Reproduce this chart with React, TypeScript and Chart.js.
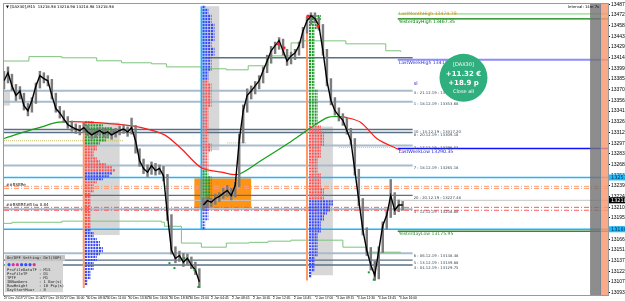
import React, { useEffect, useRef } from 'react';
import { Chart, registerables } from 'chart.js';
Chart.register(...registerables);

// ---------- price bars (one bar = 4px slot) ----------
const closes = [13383,13394,13376,13363,13369,13349,13342,13356,13376,13390,13386,13383,13363,13345,13339,13331,13323,13320,13317,13315,13319,13313,13309,13312,13315,13311,13313,13309,13312,13315,13317,13313,13319,13301,13274,13263,13258,13267,13260,13263,13253,13199,13151,13140,13144,13135,13140,13131,13124,13108,13213,13219,13217,13222,13225,13229,13233,13226,13240,13301,13342,13363,13369,13376,13383,13397,13410,13424,13431,13438,13424,13410,13417,13421,13431,13451,13465,13472,13468,13458,13424,13383,13356,13342,13335,13329,13315,13301,13260,13219,13179,13151,13131,13117,13151,13185,13199,13226,13206,13213,13213];
const highs = [13396,13402,13392,13378,13375,13366,13352,13360,13380,13396,13394,13390,13385,13366,13348,13342,13334,13328,13324,13322,13325,13322,13316,13317,13319,13318,13317,13316,13318,13321,13323,13320,13332,13322,13290,13276,13268,13272,13270,13268,13266,13255,13200,13156,13150,13147,13146,13142,13135,13126,13222,13224,13222,13228,13230,13236,13240,13236,13244,13310,13350,13372,13376,13382,13390,13402,13418,13430,13436,13442,13440,13426,13422,13426,13436,13456,13470,13476,13476,13470,13460,13426,13386,13360,13346,13338,13332,13318,13304,13262,13222,13182,13155,13136,13156,13190,13205,13248,13230,13220,13218];
const lows = [13372,13380,13370,13356,13358,13343,13335,13340,13352,13373,13380,13376,13358,13340,13332,13326,13318,13314,13311,13309,13312,13308,13304,13305,13308,13306,13307,13303,13306,13309,13311,13307,13310,13284,13266,13256,13252,13255,13254,13255,13246,13192,13146,13134,13136,13129,13132,13126,13118,13100,13206,13210,13211,13214,13218,13222,13225,13220,13224,13238,13298,13340,13358,13365,13372,13380,13394,13407,13420,13426,13418,13404,13406,13412,13418,13428,13448,13460,13462,13452,13418,13376,13350,13336,13328,13322,13310,13296,13254,13212,13172,13144,13124,13110,13112,13148,13180,13196,13200,13204,13206];

// moving average (slot, price)
const maX = [0,4.5,9.5,13.25,17,22,29.5,34.5,40.25,44.5,49.5,54.5,58.75,64.5,72,77,81.25,84.5,85.75,89.5,93.75,99.5];
const maY = [13304,13312,13320,13326,13327,13326,13323,13319,13309,13290,13264,13258,13255,13274,13300,13319,13333,13334,13333,13326,13303,13288];

// stepped pivot lines
const stepUpX = [0,6.25,14.5,23.25,29.5,37,40.75,49.5,55.75,61.25,66.25,72,74.5,85.75,95.75,99.5];
const stepUpY = [13410,13416,13414.4,13410.3,13407.6,13406.2,13402,13399.4,13398,13403.5,13417,13434.8,13437.6,13433.5,13424,13422.6];
const stepLoX = [0,2,14.5,39.5,40.25,44.5,49.5,55.75,61.5,66.25,72,85,90.75,99.5];
const stepLoY = [13188,13189.5,13191,13189.5,13184,13161,13155.4,13161,13162,13163.6,13165,13155.4,13148.6,13148.6];

// swing markers
const redMarkX = [68.75,70.25,76.25,78.75];
const redMarkY = [13433.5,13428,13471.6,13458];
const greenMarkX = [41.5,42.75,45.25,47.75,48.75,91.5,92.75];
const greenMarkY = [13133.6,13126.8,13140.4,13124,13101,13121,13111];

// TPO profiles
const prof1Counts = [3,6,9,10,9,8,7,5, 4,4,3,3,4,5, 7,9,10,9,8,6, 4,3,3,3,2,2,2,2,2,2,2,2,2,2,2,2, 2,3,3,4,5,5,6,6,5,4,4,3,3,3,2,2,2,1,1];
const prof1Codes = 'ggggggggrrrrrrrrrbbbrrrrrrrrrrrrrrrrbbbbbbbbbbbbbbbbbbb';
const prof2Counts = [1,2,2,3,3,3,4,4,4,4,4,4,3,3,4,4,4,3,3,3,3,3,2,2,2, 2,3,3,3,3,3,3,3,3,2,2,2,2,2,2,2,2,2,2,2,2,3,3,3,2,2,2,2,2,2, 2,2,3,3,3,3,3,3,3,3,2,2,2,2,2,2,2,1,1,1];
const prof2Codes = 'bbbbbbbbbbbbbbbbbbbbbbbbbrrrrrrrrrrrrrrrrrrrrrrrrrrrrrrggggggggggbbbbbbbbbb';
const prof3Counts = [4,4,3,3,3,2,2,2,2,2,2,2,2,2,2,2,2,2,2,2,2,2,2,2,2,3,3,3,3,3,3,3,3,3,3,3,3, 4,4,5,5,5,5,5,4,4,4,4,3,3,3,3,3,4,4,4,4,4,5,5,5,5, 8,8,7,7,6,5,5,4,4,4,4,3,3,3,3,3,3,3,3,2,2,2,2,2,1,1];
const prof3Codes = 'gggggggggggggggggggggggggggggggggggggrrrrrrrrrrrrrrrrrrrrrrrrrbbbbbbbbbbbbbbbbbbbbbbbbbb';
const profStart = [20.3, 49.8, 76.5];
const profTop = [13326, 13484, 13471.6];

// horizontal levels
const levelPrices = [13414.5,13369.4,13354.4,13316.3,13312.2,13294.5,13267.2,13226.3,13207.2,13147.2,13137.7,13131.0];
const levelStart = [49.5,0,0,0,0,0,0,0,0,0,0,0];
const levelLabels = ['', '3 : 21.12.19 : 13361.18', '1 : 18.12.19 : 13353.68', '10 : 13.12.19 : 13317.20', '8 : 20.12.19 : 13309.18', '2 : 17.12.19 : 13296.53', '7 : 18.12.19 : 13265.18', '20 : 20.12.19 : 13227.48', '4 : 12.12.19 : 13208.88', '6 : 06.12.19 : 13148.48', '5 : 13.12.19 : 13139.88', '4 : 04.12.19 : 13129.75'];
const cyanLevels = [13250.8, 13179.9];
const orangeLevels = [13238.6, 13235.8];
const redLevels = [13209.9, 13205.9];
const bidPrice = 13219.5;
const namedPrices = [13474.4, 13467.6, 13411.7, 13290.4, 13177.2];
const namedLabels = ['LastMonthHigh 13474.78', 'YesterdayHigh 13467.35', 'LastWeekHigh 13411.50', 'LastWeekLow 13290.35', 'YesterdayLow 13175.95'];

// zones [x0, x1, priceTop, priceBottom]
const grayZones = [[20.25,29,13326,13172],[49.75,54,13485,13288],[77,82.5,13320.4,13117],[0,1.5,13369,13349]];
const orangeZone = [47.75,62,13249.5,13208.6];

// axes
const yTicks = [13487.5,13472.9,13458.3,13443.7,13429.1,13414.5,13399.9,13385.3,13370.7,13356.1,13341.5,13326.9,13312.3,13297.7,13283.1,13268.5,13253.9,13239.3,13224.7,13210.1,13195.5,13180.9,13166.3,13151.7,13137.1,13122.5,13107.9,13093.3];
const xTickPos = [0,5,10,15.25,20.75,25.75,31.25,36.25,41.5,46.5,52,57.25,62.5,67.5,72.75,78.25,83.5,88.75,94,99.25];
const xTickLabels = ['27 Dec 2019','27 Dec 11:00','27 Dec 13:30','27 Dec 16:00','30 Dec 08:30','30 Dec 11:00','30 Dec 13:30','30 Dec 16:00','30 Dec 18:30','30 Dec 21:00','2 Jan 04:45','2 Jan 08:45','2 Jan 10:45','2 Jan 12:45','2 Jan 14:45','2 Jan 17:00','3 Jan 09:15','3 Jan 11:30','3 Jan 13:45','3 Jan 16:00'];

const ROW = 4.09;
const LETTER = 0.75;
const XMAX = 151.5;

function hl(p: number, x0: number, x1: number) {
  return [{ x: x0, y: p }, { x: x1, y: p }];
}
function profPts(k: number, counts: number[], codes: string, code: string) {
  const pts: any[] = [];
  counts.forEach((c, i) => {
    if (codes[i] !== code) return;
    const p = profTop[k] - i * ROW;
    pts.push({ x: profStart[k], y: p }, { x: profStart[k] + c * LETTER, y: p }, { x: profStart[k], y: null });
  });
  return pts;
}

const levelColors = ['#587084','#a9bccb','#a9bccb','#587084','#587084','#a9bccb','#a9bccb','#587084','#a9bccb','#a9bccb','#587084','#587084'];
const namedColors = ['#86e086','#008000','#8c8cff','#1010ff','#2e8b2e'];
const namedTextColors = ['#d09020','#008000','#3030d0','#2020d0','#2e8b2e'];

const decor = {
  id: 'decor',
  beforeDatasetsDraw(chart: any) {
    const { ctx, scales } = chart;
    const x = scales.x, y = scales.y;
    ctx.save();
    const rect = (z: number[], col: string) => {
      const x0 = x.getPixelForValue(z[0]), x1 = x.getPixelForValue(z[1]);
      const y0 = y.getPixelForValue(z[2]), y1 = y.getPixelForValue(z[3]);
      ctx.fillStyle = col;
      ctx.fillRect(x0, y0, x1 - x0, y1 - y0);
    };
    grayZones.forEach((z) => rect(z, '#d7d7d7'));
    rect(orangeZone, '#ff9414');
    ctx.restore();
  },
  afterDatasetsDraw(chart: any) {
    const { ctx, scales, chartArea } = chart;
    const x = scales.x, y = scales.y;
    ctx.save();
    // right strips
    const sx0 = x.getPixelForValue(147), sx1 = x.getPixelForValue(149.5), sx2 = x.getPixelForValue(XMAX);
    ctx.globalAlpha = 0.82;
    ctx.fillStyle = '#747474';
    ctx.fillRect(sx0, chartArea.top, sx1 - sx0, chartArea.bottom - chartArea.top);
    ctx.fillStyle = '#f8986f';
    ctx.fillRect(sx1, chartArea.top, sx2 - sx1, chartArea.bottom - chartArea.top);
    ctx.globalAlpha = 1;
    ctx.strokeStyle = '#5a7890';
    ctx.lineWidth = 0.8;
    ctx.beginPath();
    ctx.moveTo(sx1 + 0.5, chartArea.top); ctx.lineTo(sx1 + 0.5, chartArea.bottom);
    ctx.stroke();

    // frame
    ctx.strokeStyle = '#9a9a9a';
    ctx.lineWidth = 1;
    ctx.strokeRect(chartArea.left - 0.5, chartArea.top - 0.5, chartArea.right - chartArea.left + 1, chartArea.bottom - chartArea.top + 1);

    // level labels
    ctx.textBaseline = 'middle';
    ctx.textAlign = 'left';
    ctx.font = '3.8px "DejaVu Sans"';
    ctx.fillStyle = '#3a4a58';
    const lx = x.getPixelForValue(102.5) + 1;
    levelLabels.forEach((t, i) => {
      if (!t) return;
      ctx.fillText(t, lx, y.getPixelForValue(levelPrices[i]) + 2.5);
    });
    ctx.font = '4.6px "DejaVu Sans"';
    const nx = x.getPixelForValue(98.75) + 1;
    namedLabels.forEach((t, i) => {
      ctx.fillStyle = namedTextColors[i];
      const off = i === 0 ? 0 : 3;
      ctx.fillText(t, nx, y.getPixelForValue(namedPrices[i]) + off);
    });
    ctx.fillStyle = '#2020d0';
    ctx.font = '5px "DejaVu Sans"';
    ctx.fillText('sl', x.getPixelForValue(102.75), y.getPixelForValue(13378.9));

    // close-all button
    const cx = x.getPixelForValue(115.25), cy = y.getPixelForValue(13387);
    ctx.fillStyle = '#2fae7e';
    ctx.beginPath(); ctx.arc(cx, cy, 24, 0, Math.PI * 2); ctx.fill();
    ctx.fillStyle = '#ffffff';
    ctx.textAlign = 'center';
    ctx.font = '5px "DejaVu Sans"';
    ctx.fillText('[DAX30]', cx, cy - 13);
    ctx.font = 'bold 7px "DejaVu Sans"';
    ctx.fillText('+11.32 €', cx, cy - 4);
    ctx.fillText('+18.9 p', cx, cy + 5);
    ctx.font = '5px "DejaVu Sans"';
    ctx.fillText('Close all', cx, cy + 14);

    // left small labels
    ctx.textAlign = 'left';
    ctx.fillStyle = '#202020';
    ctx.font = '4px "DejaVu Sans"';
    ctx.fillText('##BSBRe', chartArea.left + 2, y.getPixelForValue(13240.5));
    ctx.fillText('##BSBRE#B bu 0.84', chartArea.left + 2, y.getPixelForValue(13213.5));

    // title
    ctx.fillStyle = '#000';
    ctx.font = '3.8px "DejaVu Sans"';
    ctx.fillText('▼ [DAX30],M15  13218.98 13218.98 13218.98 13218.98', chartArea.left + 2, chartArea.top + 3);
    ctx.textAlign = 'right';
    ctx.fillText('Interval: 14m 7s', sx1 - 1, chartArea.top + 3);

    // info panel
    const px0 = chartArea.left + 1, py0 = y.getPixelForValue(13144.5);
    ctx.fillStyle = '#d5d5d5';
    ctx.fillRect(px0, py0, 58, 37);
    ctx.fillStyle = '#c4c4c4';
    ctx.fillRect(px0, py0, 60, 6);
    ctx.textAlign = 'left';
    ctx.fillStyle = '#222';
    ctx.font = '3.8px "DejaVu Sans Mono"';
    ctx.fillText('On/OFF Setting: Del(SUP)', px0 + 2, py0 + 3.2);
    const dots = ['#3050ff', '#e0309a', '#e0309a', '#3050ff', '#3050ff', '#3050ff', '#e0309a'];
    dots.forEach((c, i) => {
      ctx.fillStyle = c;
      ctx.beginPath(); ctx.arc(px0 + 4 + i * 4.2, py0 + 9.5, 1.6, 0, Math.PI * 2); ctx.fill();
    });
    ctx.fillStyle = '#222';
    const rows = ['ProfileDataTF : M15', 'ProfileTF     : D1', 'TPTF          : M1', 'IBNumbers     : 1 Bar(s)', 'RowHeight     : 10 Pip(s)', 'DayStartHour  : 0'];
    rows.forEach((t, i) => ctx.fillText(t, px0 + 2, py0 + 14.5 + i * 4));

    // axis tags
    const tag = (p: number, text: string, bg: string, fg: string) => {
      const yy = y.getPixelForValue(p);
      ctx.fillStyle = bg;
      ctx.fillRect(chartArea.right + 1, yy - 3, 17, 6);
      ctx.fillStyle = fg;
      ctx.textAlign = 'left';
      ctx.font = '5px "DejaVu Sans"';
      ctx.fillText(text, chartArea.right + 3, yy);
    };
    tag(cyanLevels[0], '13251.05', '#1ebcff', '#003050');
    tag(bidPrice, '13218.98', '#000000', '#ffffff');
    tag(cyanLevels[1], '13180.15', '#1ebcff', '#003050');
    ctx.restore();
  },
};

export default function App() {
  const ref = useRef<HTMLCanvasElement>(null);
  useEffect(() => {
    document.body.style.margin = '0';
    const datasets: any[] = [];
    // gray levels
    levelPrices.forEach((p, i) => {
      datasets.push({ type: 'line', data: hl(p, levelStart[i], 102.5), borderColor: levelColors[i], borderWidth: levelColors[i] === '#587084' ? 1.4 : 2, pointRadius: 0, order: 60 });
    });
    cyanLevels.forEach((p) => datasets.push({ type: 'line', data: hl(p, 0, XMAX), borderColor: '#1eb4ff', borderWidth: 1.5, pointRadius: 0, order: 55 }));
    orangeLevels.forEach((p) => datasets.push({ type: 'line', data: hl(p, 0, XMAX), borderColor: '#ff9a70', borderWidth: 1, borderDash: [5, 2, 1, 2], pointRadius: 0, order: 55 }));
    redLevels.forEach((p) => datasets.push({ type: 'line', data: hl(p, 0, XMAX), borderColor: '#ff5a5a', borderWidth: 1, borderDash: [5, 2, 1, 2], pointRadius: 0, order: 55 }));
    datasets.push({ type: 'line', data: hl(bidPrice, 0, XMAX), borderColor: '#c4c4c4', borderWidth: 1, pointRadius: 0, order: 55 });
    namedPrices.forEach((p, i) => datasets.push({ type: 'line', data: hl(p, 98.75, XMAX), borderColor: namedColors[i], borderWidth: i === 2 ? 2 : 1.3, pointRadius: 0, order: 55 }));
    // dotted olive levels
    datasets.push({ type: 'line', data: hl(13301, 0, 30), borderColor: '#c8c070', borderWidth: 1, borderDash: [1, 1], pointRadius: 0, order: 58 });
    datasets.push({ type: 'line', data: hl(13298, 56, 61), borderColor: '#c8c070', borderWidth: 1, borderDash: [1, 1], pointRadius: 0, order: 58 });
    datasets.push({ type: 'line', data: hl(13292, 84, 97), borderColor: '#c8c070', borderWidth: 1, borderDash: [1, 1], pointRadius: 0, order: 58 });
    // stepped lines
    datasets.push({ type: 'line', data: stepUpX.map((v, i) => ({ x: v, y: stepUpY[i] })), stepped: true, borderColor: '#7cc47c', borderWidth: 1, pointRadius: 0, order: 45 });
    datasets.push({ type: 'line', data: stepLoX.map((v, i) => ({ x: v, y: stepLoY[i] })), stepped: true, borderColor: '#7cc47c', borderWidth: 1, pointRadius: 0, order: 45 });
    // vertical day lines
    datasets.push({ type: 'line', data: [{ x: 20, y: 13326 }, { x: 20, y: 13099.5 }], borderColor: '#ff9966', borderWidth: 2, pointRadius: 0, order: 40 });
    datasets.push({ type: 'line', data: [{ x: 76, y: 13472 }, { x: 76, y: 13110 }], borderColor: '#ff9966', borderWidth: 2, pointRadius: 0, order: 40 });
    datasets.push({ type: 'line', data: [{ x: 50.1, y: 13485 }, { x: 50.1, y: 13220 }], borderColor: 'rgba(120,220,255,0.6)', borderWidth: 3, pointRadius: 0, order: 41 });
    datasets.push({ type: 'line', data: [{ x: 49.5, y: 13485 }, { x: 49.5, y: 13179 }], borderColor: '#12b8ff', borderWidth: 1.6, pointRadius: 0, order: 40 });
    // profiles
    const pc: any = { g: '#1f9a2a', r: '#ff5050', b: '#3848ff' };
    const profs: [number, number[], string][] = [[0, prof1Counts, prof1Codes], [1, prof2Counts, prof2Codes], [2, prof3Counts, prof3Codes]];
    profs.forEach(([k, counts, codes]) => {
      ['g', 'r', 'b'].forEach((code) => {
        datasets.push({ type: 'line', data: profPts(k, counts, codes, code), borderColor: pc[code], borderWidth: 2.2, borderDash: [2, 0.8], pointRadius: 0, spanGaps: false, order: 35 });
      });
    });
    // moving average, colored by slope
    datasets.push({ type: 'line', data: maX.map((v, i) => ({ x: v, y: maY[i] })), borderColor: '#ff1a1a', borderWidth: 1.2, pointRadius: 0, tension: 0.3, order: 30,
      segment: { borderColor: (c: any) => (c.p1.parsed.y > c.p0.parsed.y ? '#12a012' : '#ff1a1a') } });
    // wicks and close line
    datasets.push({ type: 'bar', data: closes.map((_, i) => ({ x: i, y: [lows[i], highs[i]] })), backgroundColor: '#7c7c7c', barThickness: 1.8, grouped: false, order: 20 });
    datasets.push({ type: 'line', data: closes.map((c, i) => ({ x: i, y: c })), borderColor: '#000', borderWidth: 1.4, pointRadius: 0, order: 10,
      segment: { borderColor: (c: any) => (c.p0DataIndex === 49 ? 'rgba(0,0,0,0)' : '#000') } });
    // markers
    datasets.push({ type: 'line', data: redMarkX.map((v, i) => ({ x: v, y: redMarkY[i] })), showLine: false, pointRadius: 1.6, pointBackgroundColor: '#ff2020', pointBorderWidth: 0, order: 5 });
    datasets.push({ type: 'line', data: greenMarkX.map((v, i) => ({ x: v, y: greenMarkY[i] })), showLine: false, pointRadius: 1.4, pointStyle: 'rect', pointBackgroundColor: '#159a30', pointBorderWidth: 0, order: 5 });

    const chart = new Chart(ref.current as HTMLCanvasElement, {
      type: 'line',
      data: { datasets },
      options: {
        animation: false,
        responsive: true,
        maintainAspectRatio: false,
        devicePixelRatio: 1,
        events: [],
        layout: { padding: { left: 2, top: 3, right: 0, bottom: 0 } },
        plugins: { legend: { display: false }, tooltip: { enabled: false } },
        scales: {
          x: {
            type: 'linear', min: 0, max: XMAX, offset: false,
            afterBuildTicks: (s: any) => { s.ticks = xTickPos.map((v) => ({ value: v })); },
            afterFit: (s: any) => { s.height = 6; },
            ticks: { autoSkip: false, maxRotation: 0, minRotation: 0, align: 'start', padding: 0, color: '#000', font: { size: 3.3, family: 'Liberation Sans' },
              callback: (_v: any, i: number) => xTickLabels[i] },
            grid: { drawOnChartArea: false, tickLength: 1.5, color: '#000', offset: false },
            border: { color: '#9a9a9a' },
          },
          y: {
            position: 'right', min: 13090, max: 13488,
            afterBuildTicks: (s: any) => { s.ticks = yTicks.map((v) => ({ value: v })); },
            afterFit: (s: any) => { s.width = 17; },
            ticks: { padding: 1, color: '#000', font: { size: 5, family: 'Liberation Sans' }, callback: (v: any) => Number(v).toFixed(2) },
            grid: { drawOnChartArea: false, tickLength: 2, color: '#000' },
            border: { color: '#9a9a9a' },
          },
        },
      } as any,
      plugins: [decor],
    });
    return () => chart.destroy();
  }, []);
  return (
    <div style={{ width: 625, height: 301, position: 'relative' }}>
      <canvas ref={ref} />
    </div>
  );
}
